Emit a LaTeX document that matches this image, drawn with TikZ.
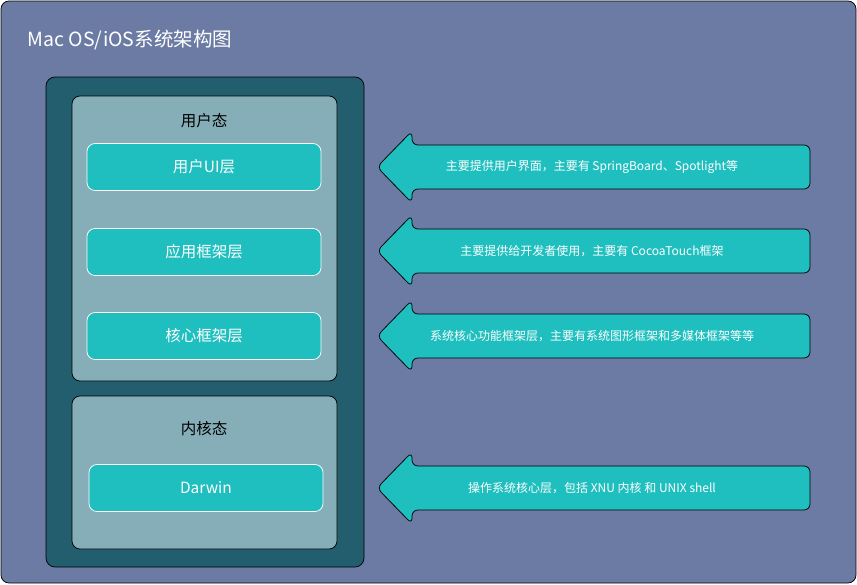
\documentclass[tikz,border=0pt]{standalone}
\usepackage{fontspec}
\setmainfont{Noto Sans CJK SC}
\usetikzlibrary{positioning,calc}
\definecolor{bgblue}{RGB}{107,123,164}
\definecolor{darkteal}{RGB}{35,94,111}
\definecolor{paleteal}{RGB}{133,174,185}
\definecolor{cyanbox}{RGB}{31,191,191}
\tikzset{
  every picture/.style={line width=0.75pt},
  layerbox/.style={draw=white, fill=cyanbox, rounded corners=8pt, minimum width=234pt, minimum height=47pt, text=white, font=\fontsize{15.5}{18}\selectfont},
  statebox/.style={draw=black, fill=paleteal, rounded corners=8pt},
  statelabel/.style={text=black, font=\fontsize{15.5}{18}\selectfont},
  notearrow/.style={draw=black, fill=cyanbox, rounded corners=6pt},
  notetext/.style={text=white, font=\fontsize{12}{14}\selectfont}
}

\begin{document}
\begin{tikzpicture}[x=1pt, y=-1pt]
    \useasboundingbox (0,0) rectangle (857,584);

    % 背景
    \draw[fill=bgblue, rounded corners=8pt] (1,1) rectangle (856,583);
    \node[anchor=west, text=white, font=\fontsize{19.5}{23}\selectfont] (title) at (24,40) {Mac OS/iOS系统架构图};

    % 外框
    \draw[fill=darkteal, rounded corners=9pt] (46,77) rectangle (364,567);

    % 用户态
    \draw[statebox] (72,96) rectangle (337,381);
    \node[statelabel] (user) at (204,121) {用户态};
    \node[layerbox] (ui) at (204,167) {用户UI层};
    \node[layerbox] (app) at (204,252) {应用框架层};
    \node[layerbox] (core) at (204,336) {核心框架层};

    % 内核态
    \draw[statebox] (72,396) rectangle (337,549);
    \node[statelabel] (kernel) at (204,429) {内核态};
    \node[layerbox] (darwin) at (206,488) {Darwin};

    % 说明箭头
    \foreach \c/\name/\txt in {167/n1/{主要提供用户界面，主要有 SpringBoard、Spotlight等},
                              251/n2/{主要提供给开发者使用，主要有 CocoaTouch框架},
                              336/n3/{系统核心功能框架层，主要有系统图形框架和多媒体框架等等},
                              488/n4/{操作系统核心层，包括 XNU 内核 和 UNIX shell}} {
        \draw[notearrow] (377,\c) -- (412,\c-36) -- (412,\c-22) -- (810,\c-22)
            -- (810,\c+22) -- (412,\c+22) -- (412,\c+36) -- cycle;
        \node[notetext] (\name) at (592,\c) {\txt};
    }
\end{tikzpicture}
\end{document}
